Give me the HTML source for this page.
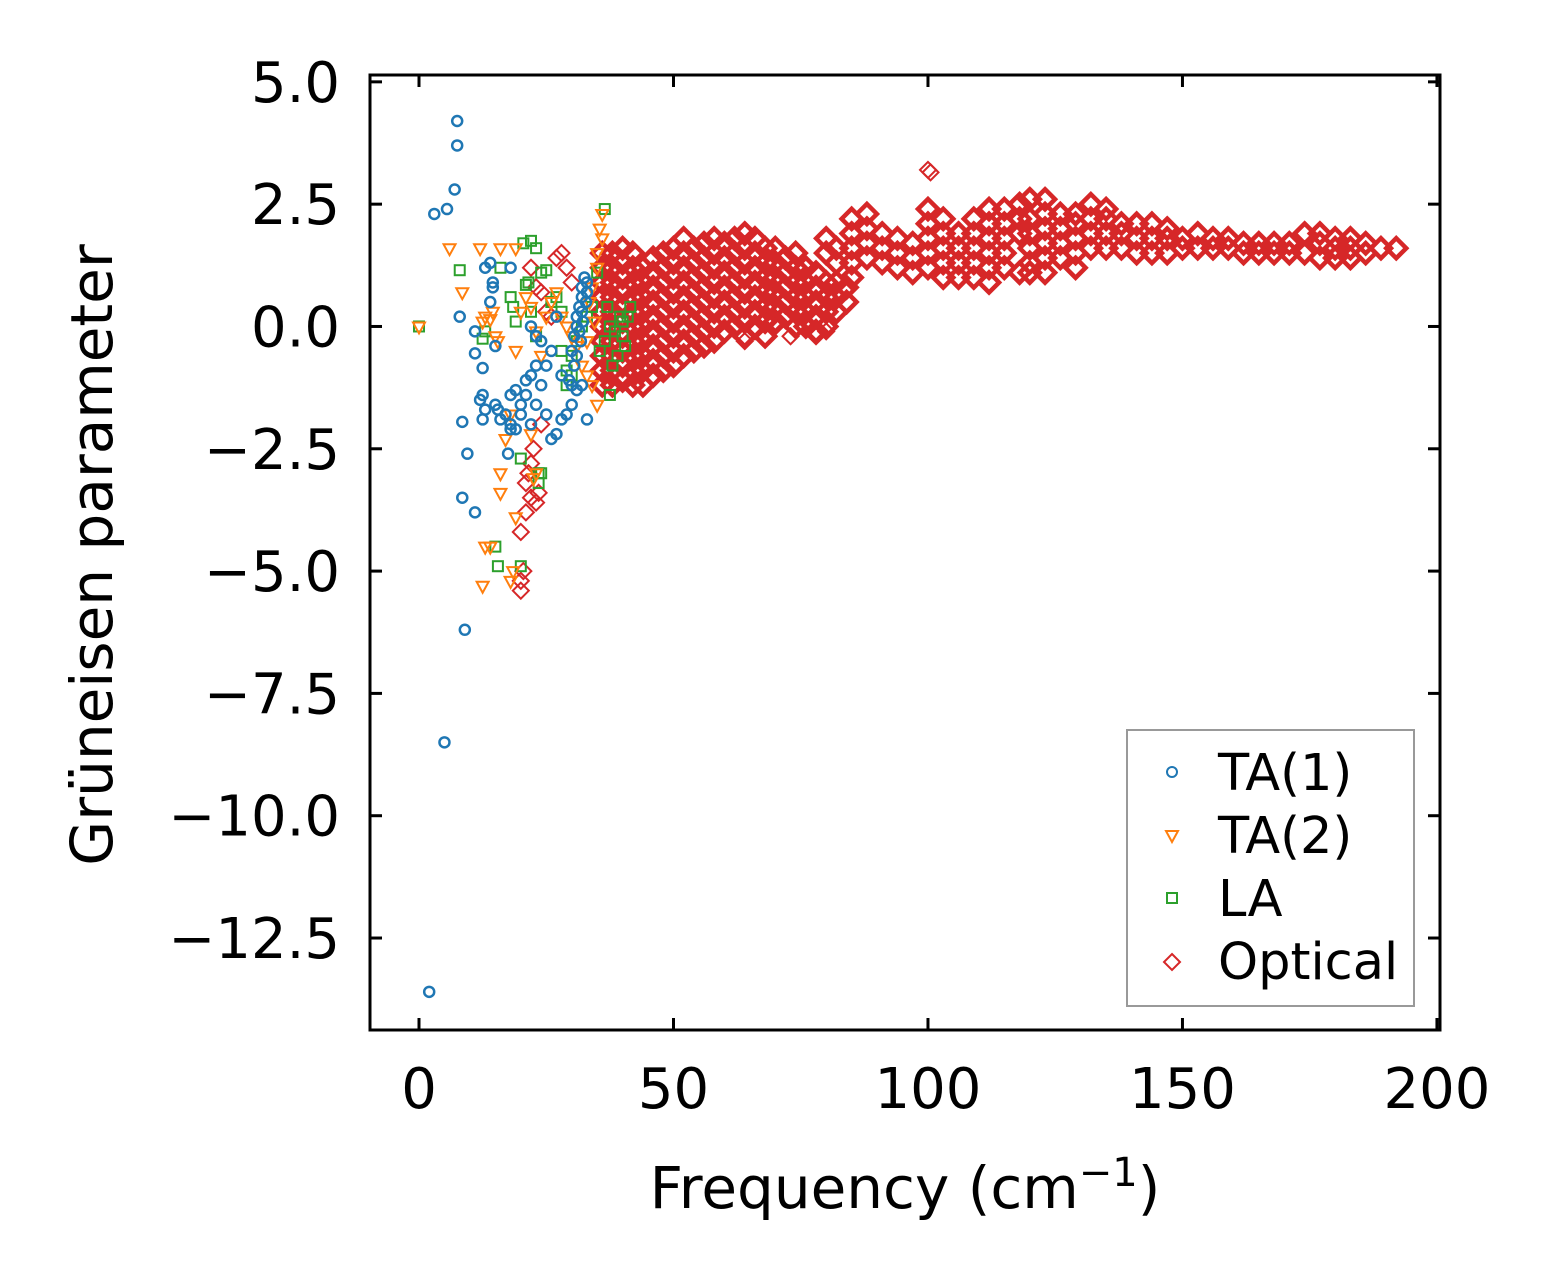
<!DOCTYPE html>
<html><head><meta charset="utf-8">
<style>
html,body{margin:0;padding:0;background:#fff;}
svg{display:block;font-family:"DejaVu Sans","Liberation Sans",sans-serif;}
</style></head>
<body>
<svg id="chart" width="1552" height="1280" viewBox="0 0 1552 1280" xmlns="http://www.w3.org/2000/svg">
<rect x="0" y="0" width="1552" height="1280" fill="#fff"/>
<g id="marks"></g>
<g id="axes"></g>
<text x="0" y="0" transform="translate(112,555) rotate(-90)" text-anchor="middle" font-size="58">Grüneisen parameter</text>
<text x="905" y="1208" text-anchor="middle" font-size="58">Frequency (cm<tspan font-size="40" dy="-22">−1</tspan><tspan dy="22">)</tspan></text>
<g>
<rect x="1127" y="730" width="287" height="276" fill="#fff" stroke="#999" stroke-width="2"/>
<circle cx="1172" cy="772" r="5" fill="none" stroke="#1f77b4" stroke-width="2"/>
<text x="1218" y="790" font-size="51">TA(1)</text>
<path d="M1166,831 L1178,831 L1172,842 Z" fill="none" stroke="#ff7f0e" stroke-width="2"/>
<text x="1218" y="853" font-size="51">TA(2)</text>
<rect x="1167" y="893" width="10" height="10" fill="none" stroke="#2ca02c" stroke-width="2"/>
<text x="1218" y="916" font-size="51">LA</text>
<path d="M1172,954 L1180,962 L1172,970 L1164,962 Z" fill="none" stroke="#d62728" stroke-width="2"/>
<text x="1218" y="979" font-size="51">Optical</text>
</g>
</svg>
<script>
const xTicks = [0, 50, 100, 150, 200];
const xTickLabels = ["0", "50", "100", "150", "200"];
const yTicks = [5, 2.5, 0, -2.5, -5, -7.5, -10, -12.5];
const yTickLabels = ["5.0", "2.5", "0.0", "\u22122.5", "\u22125.0", "\u22127.5", "\u221210.0", "\u221212.5"];

const ta1X = [2,5,9,7.5,7.5,7,3,5.5,8,11,11,12.5,12.5,12,13,12.5,8.5,9.5,8.5,11,13,14,14.5,14.5,14,15,15,15.5,16,17,18,18,19,17.5,18,19,20,20,21,22,21,22,23,23,24,24,25,25,26,27,28,29,30,31,32,33,18,22,23,26,27,30,30.5,31,31,31.5,32,32,32.5,33,32,31.5,30.5,29.5,28,33,32.8,32.2,31.8,31,30];
const ta1Y = [-13.6,-8.5,-6.2,4.2,3.7,2.8,2.3,2.4,0.2,-0.1,-0.55,-0.85,-1.4,-1.5,-1.7,-1.9,-1.95,-2.6,-3.5,-3.8,1.2,1.3,0.9,0.8,0.5,-0.4,-1.6,-1.7,-1.9,-1.8,-2.0,-2.1,-2.1,-2.6,-1.4,-1.3,-1.6,-1.8,-1.1,-1.0,-1.4,-2.0,-1.6,-0.8,-1.2,-0.3,-0.8,-1.8,-2.3,-2.2,-1.9,-1.8,-1.6,-1.3,-1.2,-1.9,1.2,0.0,-0.2,-0.5,0.2,-0.5,-0.2,0,0.2,0.4,0.6,0.8,1.0,0.9,0.3,-0.1,-0.8,-1.1,-1.0,0.7,0.5,0.1,-0.3,-0.6,-1.2];

const ta2X = [0,6,12,16,8.5,12.5,13,14,14.5,15.5,15,16,16,13,14,12.5,18,18.5,19,17,18,19,19,20,21,22,23,24,25,26,27,28,29,30,31,32,33,34,35,35,35.5,36,36,35,34,33.5,34.5,33,22,22.5,23];
const ta2Y = [0,1.6,1.6,1.6,0.7,0.1,0.2,0.15,0.3,-0.3,-0.2,-3.4,-3.0,-4.5,-4.5,-5.3,-5.2,-5.0,-3.9,-2.3,-1.8,-0.5,1.6,0.3,0.6,0.4,-0.1,-0.6,0.2,0.5,0.7,0.2,0.0,-0.2,-0.4,-0.8,-1.0,-1.2,-1.6,1.5,2.0,2.3,1.8,1.2,0.8,0.5,0.1,-0.3,-2.2,-3.1,-3.0];

const laX = [0,8,16,12.5,13,15,15.5,20,20,20.5,22,23,24,25,21,21.5,18,18.5,19,22,23,23.5,23.5,24,28,29,29,30,30,31,32,33,34,35,36.5,37,37.5,38,39,40,40,41,41.5,40.5,39.5,38.5,37.5,36.5,35.5,26,27,28];
const laY = [0,1.15,1.2,-0.25,-0.1,-4.5,-4.9,-2.7,-4.9,1.7,1.75,1.6,1.1,1.15,0.85,0.9,0.6,0.4,0.1,0.3,-0.2,-3.0,-3.2,-3.0,-0.5,-0.9,-1.2,-1.0,-0.6,-0.3,0.0,0.2,0.4,1.1,2.4,0.4,-1.4,-0.8,-0.6,-0.2,0.1,0.2,0.4,-0.4,0.2,-0.1,0.0,-0.3,-0.5,0.5,0.6,0.3];

const optStrayX = [20,20,20.5,20,21,21,22,23,23.5,22,21.5,22.5,24,23,22,25,26,27,28,29,30,24,100,100.5,64,66,70,73,76,78,80];
const optStrayY = [-5.4,-5.2,-5.0,-4.2,-3.8,-3.2,-3.5,-3.6,-3.4,-2.8,-3.0,-2.5,-2.0,0.8,1.2,0.3,0.2,1.4,1.5,1.2,0.9,0.7,3.2,3.15,-0.3,-0.1,0.0,-0.2,0.1,-0.2,-0.1];

const optColX = [36,38,40,42,44,46,48,50,52,54,56,58,60,62,64,66,68,70,72,74,76,78,80,82,84,80,82,85,88,91,94,97,100,103,106,109,112,115,118,120,123,126,129,132,135,138,141,144,147,150,153,156,159,162,165,168,171,174,177,180,183,186,189,192];
const optColY = [
[-1.2,-0.9,-0.6,-0.3,0,0.3,0.6,0.9,1.2,1.5],
[-1.2,-0.9,-0.6,-0.3,0,0.3,0.6,0.9,1.2,1.5],
[-1.1,-0.8,-0.5,-0.2,0.1,0.4,0.7,1.0,1.3,1.6],
[-1.2,-0.9,-0.6,-0.3,0,0.3,0.6,0.9,1.2,1.5],
[-1.2,-0.9,-0.6,-0.3,0,0.3,0.6,0.9,1.2],
[-1.0,-0.7,-0.4,-0.1,0.2,0.5,0.8,1.1,1.4],
[-0.9,-0.6,-0.3,0,0.3,0.6,0.9,1.2,1.5],
[-0.8,-0.5,-0.2,0.1,0.4,0.7,1.0,1.3,1.6],
[-0.6,-0.3,0,0.3,0.6,0.9,1.2,1.5,1.8],
[-0.5,-0.2,0.1,0.4,0.7,1.0,1.3,1.6],
[-0.4,-0.1,0.2,0.5,0.8,1.1,1.4,1.7],
[-0.3,0,0.3,0.6,0.9,1.2,1.5,1.8],
[-0.1,0.2,0.5,0.8,1.1,1.4,1.7],
[0,0.3,0.6,0.9,1.2,1.5,1.8],
[-0.2,0.1,0.4,0.7,1.0,1.3,1.6,1.9],
[0,0.3,0.6,0.9,1.2,1.5,1.8],
[-0.2,0.1,0.4,0.7,1.0,1.3,1.6],
[0.1,0.4,0.7,1.0,1.3,1.6],
[0.2,0.5,0.8,1.1,1.4],
[0,0.3,0.6,0.9,1.2,1.5],
[0,0.3,0.6,0.9,1.2],
[-0.1,0.2,0.5,0.8,1.1],
[0,0.3,0.6,0.9],
[0.3,0.6,0.9],
[0.5,0.8],
[1.5,1.8],
[1.3,1.6],
[1.0,1.3,1.6,1.9,2.2],
[1.4,1.7,2.0,2.3],
[1.3,1.6,1.9],
[1.2,1.5,1.8],
[1.1,1.4,1.7],
[1.2,1.5,1.8,2.1,2.4],
[1.0,1.3,1.6,1.9,2.2],
[1.0,1.3,1.6,1.9],
[1.0,1.3,1.6,1.9,2.2],
[0.9,1.2,1.5,1.8,2.1,2.4],
[1.2,1.5,1.8,2.1,2.4],
[1.1,1.9,2.2,2.5],
[1.1,1.3,1.6,1.9,2.2,2.6],
[1.1,1.4,1.7,2.0,2.3,2.6],
[1.4,1.7,2.0,2.3],
[1.2,1.5,1.8,2.1,2.3],
[1.6,1.9,2.2,2.5],
[1.6,1.9,2.2,2.4],
[1.6,1.9,2.1],
[1.5,1.8,2.1],
[1.5,1.8,2.1],
[1.5,1.8,2.0],
[1.6,1.8],
[1.6,1.9],
[1.6,1.8],
[1.6,1.8],
[1.5,1.7],
[1.5,1.7],
[1.5,1.7],
[1.5,1.7],
[1.5,1.9],
[1.4,1.7,1.9],
[1.4,1.6,1.8],
[1.4,1.6,1.8],
[1.5,1.7],
[1.6],
[1.6]
];

const PL = 370, PR = 1440, PT = 75, PB = 1030;
const XMIN = -9.63, XMAX = 200.6, YMIN = -14.38, YMAX = 5.14;
function sx(v){ return PL + (v - XMIN) / (XMAX - XMIN) * (PR - PL); }
function sy(v){ return PB - (v - YMIN) / (YMAX - YMIN) * (PB - PT); }
const NS = "http://www.w3.org/2000/svg";
const marks = document.getElementById('marks');
const axes = document.getElementById('axes');

function mk(tag, attrs, parent){
  const el = document.createElementNS(NS, tag);
  for (const k in attrs) el.setAttribute(k, attrs[k]);
  parent.appendChild(el);
  return el;
}

function drawOptical(x, y, r, sw){
  const cx = sx(x), cy = sy(y);
  const el = mk('path', {d:`M${cx},${cy-r} L${cx+r},${cy} L${cx},${cy+r} L${cx-r},${cy} Z`, fill:'none', stroke:'#d62728', 'stroke-width':sw}, marks);
  
  
}
for (let i = 0; i < optColX.length; i++) {
  for (const y of optColY[i]) drawOptical(optColX[i], y, 10, 4.5);
}
for (let i = 0; i < optStrayX.length; i++) drawOptical(optStrayX[i], optStrayY[i], 8, 2);

for (let i = 0; i < laX.length; i++) {
  const cx = sx(laX[i]), cy = sy(laY[i]);
  const el = mk('rect', {x:cx-5, y:cy-5, width:10, height:10, fill:'none', stroke:'#2ca02c', 'stroke-width':2}, marks);
  
  
}
for (let i = 0; i < ta2X.length; i++) {
  const cx = sx(ta2X[i]), cy = sy(ta2Y[i]);
  const el = mk('path', {d:`M${cx-6},${cy-4} L${cx+6},${cy-4} L${cx},${cy+7} Z`, fill:'none', stroke:'#ff7f0e', 'stroke-width':2}, marks);
  
  
}
for (let i = 0; i < ta1X.length; i++) {
  const el = mk('circle', {cx:sx(ta1X[i]), cy:sy(ta1Y[i]), r:5, fill:'none', stroke:'#1f77b4', 'stroke-width':2.5}, marks);
  
  
}

const frame = mk('rect', {x:PL, y:PT, width:PR-PL, height:PB-PT, fill:'none', stroke:'#000', 'stroke-width':3}, axes);



for (let i = 0; i < xTicks.length; i++) {
  const x = sx(xTicks[i]);
  mk('line', {x1:x, y1:PB, x2:x, y2:PB-12, stroke:'#000', 'stroke-width':3}, axes);
  mk('line', {x1:x, y1:PT, x2:x, y2:PT+12, stroke:'#000', 'stroke-width':3}, axes);
  const t = mk('text', {x:x, y:1108, 'text-anchor':'middle', 'font-size':56}, axes);
  t.textContent = xTickLabels[i];
  
  
}
for (let i = 0; i < yTicks.length; i++) {
  const y = sy(yTicks[i]);
  mk('line', {x1:PL, y1:y, x2:PL+12, y2:y, stroke:'#000', 'stroke-width':3}, axes);
  mk('line', {x1:PR, y1:y, x2:PR-12, y2:y, stroke:'#000', 'stroke-width':3}, axes);
  const t = mk('text', {x:340, y:y+20, 'text-anchor':'end', 'font-size':56}, axes);
  t.textContent = yTickLabels[i];
  
  
}
</script>
</body></html>
